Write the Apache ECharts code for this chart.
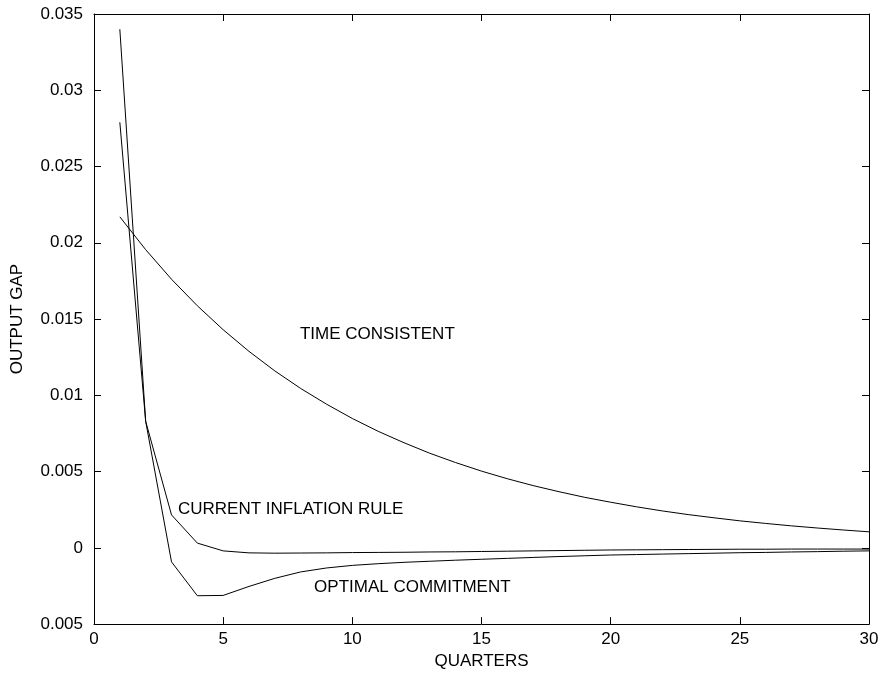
<!DOCTYPE html>
<html>
<head>
<meta charset="utf-8">
<script src="https://cdn.jsdelivr.net/npm/echarts@6/dist/echarts.min.js"></script>
<style>
html,body{margin:0;padding:0;background:#fff;}
#chart{width:886px;height:675px;}
</style>
</head>
<body>
<div id="chart"></div>
<script>
// Data
var quarters = [1,2,3,4,5,6,7,8,9,10,11,12,13,14,15,16,17,18,19,20,21,22,23,24,25,26,27,28,29,30];
var timeConsistent = [0.0217,0.01955,0.01761,0.01587,0.01430,0.01288,0.01160,0.01045,0.00942,0.00848,0.00764,0.00689,0.00620,0.00559,0.00503,0.00453,0.00408,0.00368,0.00331,0.00299,0.00269,0.00242,0.00218,0.00197,0.00177,0.00160,0.00144,0.00130,0.00117,0.00105];
var currentInflationRule = [0.0279,0.0083,0.00216,0.00031,-0.00020,-0.00033,-0.00035,-0.00034,-0.00033,-0.00031,-0.00030,-0.00029,-0.00027,-0.00026,-0.00024,-0.00022,-0.00020,-0.00018,-0.00016,-0.00014,-0.00013,-0.00012,-0.00011,-0.00010,-0.00009,-0.00009,-0.00008,-0.00008,-0.00008,-0.00008];
var optimalCommitment = [0.0340,0.0083,-0.00092,-0.00314,-0.00312,-0.00253,-0.00200,-0.00158,-0.00132,-0.00115,-0.00104,-0.00095,-0.00088,-0.00081,-0.00075,-0.00069,-0.00063,-0.00057,-0.00052,-0.00047,-0.00044,-0.00041,-0.00038,-0.00035,-0.00032,-0.00030,-0.00027,-0.00025,-0.00022,-0.00020];
var xTickLabels = ['0','5','10','15','20','25','30'];
var yTickLabels = ['0.005','0','0.005','0.01','0.015','0.02','0.025','0.03','0.035'];
var seriesLabels = ['TIME CONSISTENT','CURRENT INFLATION RULE','OPTIMAL COMMITMENT'];
var labelAnchors = [[7.97,0.0140],[3.25,0.00255],[8.52,-0.00262]];

function pairs(ys){ return quarters.map(function(q,i){ return [q, ys[i]]; }); }

var FONT = '"Liberation Sans", Arial, sans-serif';
var FS = 17;
var xMin = 0, xMax = 30, xInt = 5;
var yMin = -0.005, yMax = 0.035, yInt = 0.005;

var chart = echarts.init(document.getElementById('chart'), null, {renderer:'canvas'});

function axisBase(){
  return {
    axisLine:{show:true, onZero:false, lineStyle:{color:'#000', width:1}},
    axisTick:{show:true, inside:true, length:7, lineStyle:{color:'#000', width:1}},
    splitLine:{show:false}
  };
}

var xBottom = Object.assign(axisBase(), {
  type:'value', position:'bottom', min:xMin, max:xMax, interval:xInt,
  name:'QUARTERS', nameLocation:'middle', nameGap:26,
  nameTextStyle:{color:'#000', fontFamily:FONT, fontSize:FS},
  axisLabel:{color:'#000', fontFamily:FONT, fontSize:FS, margin:7,
    formatter:function(v){ return xTickLabels[Math.round((v-xMin)/xInt)]; }}
});
var xTop = Object.assign(axisBase(), {
  type:'value', position:'top', min:xMin, max:xMax, interval:xInt,
  axisLabel:{show:false}
});
var yLeft = Object.assign(axisBase(), {
  type:'value', position:'left', min:yMin, max:yMax, interval:yInt,
  name:'OUTPUT GAP', nameLocation:'middle', nameGap:68,
  nameTextStyle:{color:'#000', fontFamily:FONT, fontSize:FS},
  axisLabel:{color:'#000', fontFamily:FONT, fontSize:FS, margin:11,
    formatter:function(v){ return yTickLabels[Math.round((v-yMin)/yInt)]; }}
});
var yRight = Object.assign(axisBase(), {
  type:'value', position:'right', min:yMin, max:yMax, interval:yInt,
  axisLabel:{show:false}
});

function lineSeries(name, ys){
  return {
    name:name, type:'line', xAxisIndex:0, yAxisIndex:0,
    data:pairs(ys), showSymbol:false, symbol:'none',
    lineStyle:{color:'#000', width:1}, animation:false, silent:true
  };
}

chart.setOption({
  backgroundColor:'#fff',
  animation:false,
  grid:{left:94, right:17, top:14, bottom:50, containLabel:false},
  xAxis:[xBottom, xTop],
  yAxis:[yLeft, yRight],
  series:[
    lineSeries(seriesLabels[0], timeConsistent),
    lineSeries(seriesLabels[1], currentInflationRule),
    lineSeries(seriesLabels[2], optimalCommitment)
  ]
});

var graphics = labelAnchors.map(function(a,i){
  var p = chart.convertToPixel({xAxisIndex:0, yAxisIndex:0}, a);
  return {
    type:'text', x:p[0], y:p[1], silent:true,
    style:{text:seriesLabels[i], fill:'#000', font: FS + 'px ' + FONT, textAlign:'left', textVerticalAlign:'middle'}
  };
});
chart.setOption({graphic:graphics});
</script>
</body>
</html>
